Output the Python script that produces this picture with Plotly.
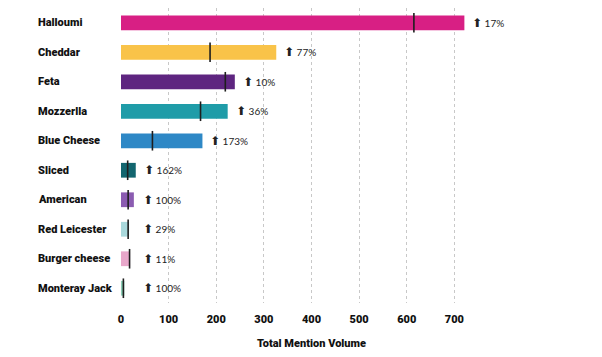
import plotly.graph_objects as go

categories = ["Halloumi", "Cheddar", "Feta", "Mozzerlla", "Blue Cheese", "Sliced",
              "American", "Red Leicester", "Burger cheese", "Monteray Jack"]
current_volume = [721, 326, 239, 224, 171, 31, 27, 17, 19, 7]
previous_volume = [615, 187, 219, 167, 66, 14, 15, 15, 18, 5]
growth_labels = ["17%", "77%", "10%", "36%", "173%", "162%", "100%", "29%", "11%", "100%"]
bar_colors = ["#D81F84", "#F9C349", "#5E2580", "#1F9CA8", "#2E88C6", "#13666F",
              "#8B5CB1", "#A9D9DC", "#E8A7CA", "#8CCFB7"]
x_ticks = [0, 100, 200, 300, 400, 500, 600, 700]

FONT = "Lato, 'DejaVu Sans', sans-serif"
HEAVY = "Roboto, Lato, sans-serif"

fig = go.Figure()
fig.add_trace(go.Bar(
    y=categories, x=current_volume, orientation="h",
    marker=dict(color=bar_colors, line=dict(width=0)),
    width=0.5, showlegend=False, hoverinfo="x+y",
))
fig.add_trace(go.Scatter(
    y=categories, x=previous_volume, mode="markers",
    marker=dict(symbol="line-ns", size=14, line=dict(width=1.6, color="#1e1e1e")),
    showlegend=False, hoverinfo="x+y", cliponaxis=False,
))

annotations = []
for cat, v, g in zip(categories, current_volume, growth_labels):
    annotations.append(dict(
        x=max(v, 30), y=cat, xref="x", yref="y", xanchor="left", yanchor="middle",
        xshift=6, showarrow=False,
        text="<span style='font-family:DejaVu Sans;font-size:12px'>⬆</span> " + g,
        font=dict(family=FONT, size=10, color="#222222"),
    ))
    annotations.append(dict(
        x=-85 / 381, y=cat, xref="paper", yref="y", xanchor="left", yanchor="middle",
        showarrow=False, text=cat,
        font=dict(family=HEAVY, size=11, color="#111111", weight=900),
    ))

fig.update_layout(
    width=594, height=349,
    margin=dict(l=113, r=100, t=0, b=54, pad=0),
    paper_bgcolor="white", plot_bgcolor="white",
    font=dict(family=FONT, color="#111111"),
    annotations=annotations,
    xaxis=dict(
        range=[0, 800], tickvals=x_ticks, ticktext=[str(t) for t in x_ticks],
        showgrid=True, gridcolor="#c8c8c8", griddash="dot", gridwidth=1,
        zeroline=False, showline=False, ticks="", ticklabelstandoff=8,
        tickfont=dict(family=HEAVY, size=11, color="#111111", weight=900),
        title=dict(text="Total Mention Volume", standoff=14,
                   font=dict(family=HEAVY, size=11, color="#111111", weight=900)),
    ),
    yaxis=dict(
        range=[9.5, -0.5], showticklabels=False, showgrid=False,
        zeroline=False, showline=False, ticks="",
    ),
)

fig.write_html("out.html")
